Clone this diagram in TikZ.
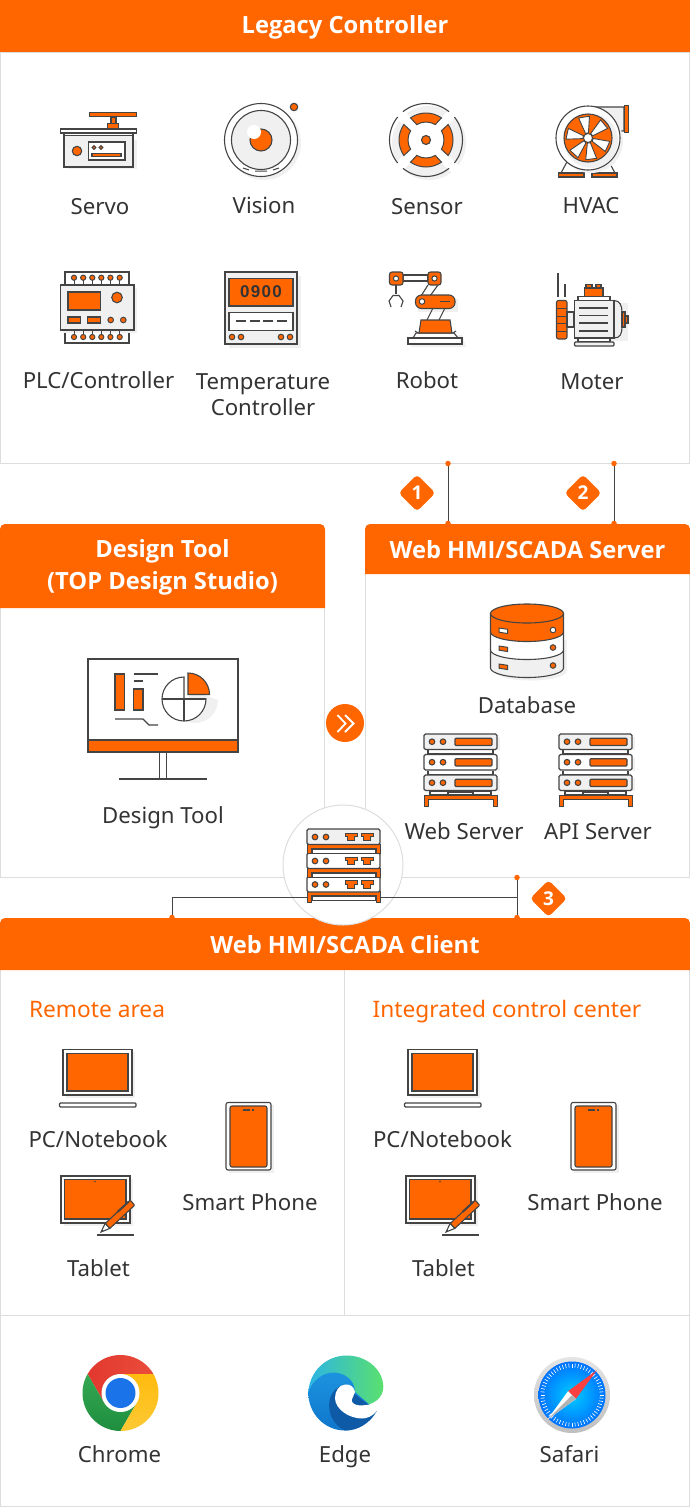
\documentclass[tikz,border=0pt]{standalone}
\usepackage{fontspec}
\setmainfont{Noto Sans}
\newfontfamily\hfnt{Open Sans}
\newfontfamily\dispfnt{Liberation Sans}[LetterSpace=8]
\usetikzlibrary{shapes.geometric}
\definecolor{org}{HTML}{FF6600}
\definecolor{ink}{HTML}{444444}
\definecolor{txt}{HTML}{333333}
\definecolor{pale}{HTML}{F0F0F0}
\definecolor{bord}{HTML}{DDDDDD}
\tikzset{
  ol/.style={draw=ink,line width=1.1pt},
  of/.style={ol,fill=org},
  wf/.style={ol,fill=white},
  gf/.style={ol,fill=pale},
  sh/.style={fill=pale,draw=none},
  panel/.style={draw=bord,line width=1pt,fill=white},
  hdr/.style={fill=org},
  lab/.style={anchor=base,text=txt,font=\fontsize{22.2}{26}\selectfont,inner sep=0pt},
  hlab/.style={anchor=base,text=white,font=\hfnt\fontsize{23.7}{26}\selectfont\bfseries,inner sep=0pt},
  olab/.style={anchor=base,text=org,font=\fontsize{22.7}{26}\selectfont,inner sep=0pt},
  dotn/.style={circle,fill=org,inner sep=0pt,minimum size=5.5pt},
  badge/.style={diamond,aspect=1,fill=org,rounded corners=4pt,inner sep=0pt,minimum size=37pt,text=white,font=\hfnt\fontsize{19}{20}\selectfont\bfseries},
  conn/.style={draw=ink,line width=1pt},
}
\newcommand{\rackrow}[3]{% x, y, fill
  \fill[sh] (#1+3,#2+3) rectangle (#1+76,#2+16);
  \draw[ol,fill=#3,rounded corners=1.5pt] (#1,#2) rectangle (#1+73,#2+15.5);
  \draw[of] (#1+8,#2+7.7) circle (2.8);
  \draw[of] (#1+19,#2+7.7) circle (2.8);
}
\newcommand{\rackbar}[2]{\draw[of,rounded corners=1pt] (#1+31,#2+4.2) rectangle (#1+68,#2+11.5);}
\newcommand{\server}[1]{%
  \draw[ol,fill=white] (#1+4,749) rectangle (#1+69,754);
  \draw[ol,fill=white] (#1+4,770) rectangle (#1+69,775);
  \draw[ol,fill=white] (#1+6,791) rectangle (#1+24,795);
  \draw[ol,fill=white] (#1+49,791) rectangle (#1+67,795);
  \draw[ol,fill=white] (#1+24,792) rectangle (#1+49,795);
  \rackrow{#1}{734}{pale}\rackbar{#1}{734}
  \rackrow{#1}{754.5}{white}\rackbar{#1}{754.5}
  \rackrow{#1}{775}{pale}\rackbar{#1}{775}
  \fill[org,draw=ink,line width=1pt] (#1,795) -- (#1+73,795) -- (#1+73,806) -- (#1+69,806) -- (#1+69,799) -- (#1+4,799) -- (#1+4,806) -- (#1,806) -- cycle;
}
\newcommand{\port}[2]{\draw[of,line width=1pt] (#1,#2) -- (#1+12,#2) -- (#1+12,#2+3.5) -- (#1+9.5,#2+3.5) -- (#1+9.5,#2+7.5) -- (#1+2.5,#2+7.5) -- (#1+2.5,#2+3.5) -- (#1,#2+3.5) -- cycle;}
\newcommand{\midrow}[3]{% y, fill, leg length
  \fill[white] (311,#1+19) rectangle (376,#1+#3);
  \draw[ink,line width=1pt,fill=white] (312,#1+20) rectangle (375,#1+24);
  \fill[org,draw=ink,line width=1pt] (307,#1+15) -- (380,#1+15) -- (380,#1+#3) -- (376,#1+#3) -- (376,#1+19) -- (311,#1+19) -- (311,#1+#3) -- (307,#1+#3) -- cycle;
  \draw[ol,fill=#2,rounded corners=1.5pt] (307,#1) rectangle (380,#1+15.5);
  \draw[of] (315,#1+8) circle (2.8);
  \draw[of] (326,#1+8) circle (2.8);
  \port{345}{#1+4}\port{361}{#1+4}
}
\newcommand{\devices}[1]{%
\begin{scope}[shift={(#1,0)}]
  % laptop
  \fill[sh] (66,1052) rectangle (135,1098);
  \draw[wf] (63,1049.5) rectangle (132,1095);
  \draw[of] (67,1053.5) rectangle (128,1091);
  \draw[ol,fill=white,rounded corners=1pt] (59.5,1103) rectangle (136,1107);
  % phone
  \fill[sh] (229,1105) rectangle (274,1173);
  \draw[wf,rounded corners=2pt] (226,1102.5) rectangle (271,1170);
  \draw[of,rounded corners=2pt] (230,1106) rectangle (267,1167);
  \draw[ink,line width=1.2pt] (243,1110) -- (250,1110) (252,1110) -- (253.5,1110);
  % tablet
  \fill[sh] (64,1179) rectangle (133,1226);
  \draw[wf] (61,1176) rectangle (130,1223);
  \draw[of] (64.5,1179.5) rectangle (126,1219);
  \fill[ink] (95,1181.5) circle (0.8);
  \draw[ink,line width=1.2pt] (97,1235) -- (134,1235);
  \begin{scope}[shift={(101,1232)},rotate=43]
    \draw[wf] (0,0) -- (9,-3.4) -- (9,3.4) -- cycle;
    \fill[ink] (0,0) -- (2.5,-1) -- (2.5,1) -- cycle;
    \draw[of,rounded corners=1pt] (9,-3.4) -- (43,-3.4) -- (43,3.4) -- (9,3.4) -- cycle;
    \draw[ink,line width=2pt] (26,-3.4) -- (41,-3.4);
  \end{scope}
\end{scope}}
\begin{document}
\begin{tikzpicture}[x=1pt,y=-1pt]
\useasboundingbox (0,0) rectangle (690,1507);
\fill[white] (0,0) rectangle (690,1507);
% ---- panels
\draw[panel] (0.5,52) rectangle (689.5,463);
\fill[hdr] (0,0) rectangle (690,52);
\node[hlab] (t1) at (345,33) {Legacy Controller};
\draw[panel] (0.5,600) rectangle (324.5,877);
\draw[panel] (365.5,570) rectangle (689.5,877);
\fill[hdr,rounded corners=5pt] (0,608) -- (0,524) -- (325,524) -- (325,608);
\fill[hdr] (0,600) rectangle (325,608);
\fill[hdr,rounded corners=5pt] (365,574) -- (365,524) -- (690,524) -- (690,574);
\fill[hdr] (365,566) rectangle (690,574);
\node[hlab] (t2) at (162.5,557) {Design Tool};
\node[hlab] (t3) at (162.5,589) {(TOP Design Studio)};
\node[hlab] (t4) at (527.5,558) {Web HMI/SCADA Server};
\draw[panel] (0.5,960) rectangle (689.5,1506);
\fill[hdr,rounded corners=5pt] (0,970) -- (0,918) -- (690,918) -- (690,970);
\fill[hdr] (0,960) rectangle (690,970);
\node[hlab] (t5) at (345,953) {Web HMI/SCADA Client};
\draw[bord,line width=1pt] (344.5,970) -- (344.5,1315.5);
\draw[bord,line width=1pt] (0,1315.5) -- (690,1315.5);
% ---- connectors 1, 2
\node[dotn] (a1) at (448,463.5) {};
\node[dotn] (b1) at (448,523.5) {};
\node[dotn] (a2) at (614,463.5) {};
\node[dotn] (b2) at (614,523.5) {};
\draw[conn] (a1) -- (b1);
\draw[conn] (a2) -- (b2);
\node[badge] (n1) at (417,493) {1};
\node[badge] (n2) at (583,493) {2};
% ---- arrow
\node[circle,fill=org,minimum size=38pt,inner sep=0pt] (arrowc) at (345,723) {};
\draw[white,line width=1.8pt] (337.5,715) -- (345.5,723.5) -- (337.5,732);
\draw[white,line width=1.8pt] (345,715) -- (353.5,723.5) -- (345,732);
% ---- middle badge
\node[circle,draw=bord,line width=1pt,fill=white,minimum size=120pt,inner sep=0pt] (hub) at (343,865) {};
\node[dotn] (a3) at (517,877.5) {};
\node[dotn] (b3) at (517,917.5) {};
\node[dotn] (b4) at (172,917.5) {};
\coordinate (j3) at (517,897);
\draw[conn] (a3) -- (b3);
\draw[conn] (b4) |- (j3);
\node[badge] (n3) at (548.5,898.5) {3};
\midrow{876.5}{white}{26}
\midrow{853}{white}{24}
\midrow{829}{pale}{24}
% ---- Servo
\fill[sh] (68,140) rectangle (137,169);
\draw[wf] (60.5,129) rectangle (136.5,133);
\draw[wf] (64,133) rectangle (133,167);
\fill[sh] (65,136) rectangle (132,166);
\draw[ink,line width=1pt] (64,135.5) -- (133,135.5);
\draw[of] (77,151) circle (4.7);
\draw[wf] (88.5,142) rectangle (125,160);
\draw[of] (94,147.5) circle (1.9);
\draw[of] (101,147.5) circle (1.9);
\draw[of] (92,153.5) rectangle (121,156.5);
\draw[of] (111,117) rectangle (116,123.5);
\draw[of] (107.5,123.5) rectangle (118.5,129);
\draw[of] (89.5,112.5) rectangle (136.5,116.5);
% ---- Vision
\fill[sh] (264,143) circle (37);
\draw[wf] (261,140) circle (36.5);
\draw[gf] (261,140) circle (29.5);
\draw[of] (261,140) circle (11);
\fill[white] (254,132) circle (7);
\draw[ink,line width=1pt] (249,170) -- (243,168) (255,171) -- (267,171) (273,170) -- (279,168);
\draw[of] (294,107) circle (3.7);
% ---- Sensor
\fill[sh] (429,143) circle (37);
\begin{scope}[shift={(426,140)},yscale=-1]
  \foreach \r in {45,135}{\fill[white,rotate=\r] (-42,-5) rectangle (42,5);}
  \fill[white] (0,0) circle (18);
  \foreach \r in {0,90,180,270}{
    \begin{scope}[rotate=\r]
      \draw[ol] (-39:36.5) arc[start angle=-39,end angle=39,radius=36.5];
      \draw[of,line width=1pt] (-35:27) arc[start angle=-35,end angle=35,radius=27] -- (31:18) arc[start angle=31,end angle=-31,radius=18] -- cycle;
    \end{scope}}
  \draw[of] (0,0) circle (4.5);
\end{scope}
% ---- HVAC
\draw[gf] (588,107) -- (624,107) -- (624,131) -- (612,131) -- (588,125) -- cycle;
\draw[of,line width=1pt] (624,105.5) rectangle (628,132);
\draw[wf] (568,160) -- (561,173) -- (584,173) -- (580,164) -- cycle;
\draw[wf] (608,160) -- (615,173) -- (592,173) -- (596,164) -- cycle;
\draw[of] (558.5,173) rectangle (584,177);
\draw[of] (592,173) rectangle (617,177);
\fill[sh] (591,141) circle (32);
\draw[wf,fill=white] (588,138) circle (32);
\fill[sh] (591,141) circle (27);
\draw[of] (588,138) circle (24);
\begin{scope}[shift={(588,138)},yscale=-1]
  \foreach \r in {80,22,-42,-102,-170,130}{
    \draw[wf,line width=0.9pt,rotate=\r] (5,-1.5) -- (21,-6) -- (21.5,5) -- (5,1.5) -- cycle;}
  \draw[wf,line width=0.9pt] (0,0) circle (4.5);
\end{scope}
% ---- PLC
\draw[wf,line width=1.2pt] (65,272) rectangle (129,285);
\draw[wf,line width=1.2pt] (65,330) rectangle (129,343);
\fill[sh] (63,288) rectangle (137,333);
\draw[gf] (60.5,285) rectangle (134,330);
\foreach \x in {74,83.2,92.3,101.3,110.4,119.7}{
  \draw[ink,line width=1pt] (\x,278) -- (\x,285);
  \draw[ink,line width=1pt] (\x,330) -- (\x,337);
  \draw[of,line width=1pt] (\x,277.7) circle (2.6);
  \draw[of,line width=1pt] (\x,337) circle (2.6);
}
\draw[of] (68,292) rectangle (100.5,310);
\draw[of] (117,297.5) circle (5.3);
\draw[of] (68,317) rectangle (80.5,323);
\draw[of] (87.5,317) rectangle (100.5,323);
\draw[of,line width=1pt] (110.7,320) circle (2.8);
\draw[of,line width=1pt] (123.3,320) circle (2.8);
% ---- Temperature controller
\fill[sh] (229,276) rectangle (301,348);
\draw[gf] (225,272) rectangle (297,344);
\draw[of] (229,278.5) rectangle (293,306);
\node[inner sep=0pt,anchor=center,text=txt,font=\dispfnt\bfseries\fontsize{17}{18}\selectfont] (disp) at (261,292) {0900};
\draw[wf] (229,312.5) rectangle (293,330.5);
\foreach \x in {236,249.5,263,276.5}{\draw[ink,line width=1.1pt] (\x,321) -- (\x+10,321);}
\foreach \x in {232,241,281,290}{\draw[of,line width=1pt] (\x,337) circle (2.8);}
% ---- Robot
\fill[sh] (414,335) -- (462,335) -- (466,347) -- (411,347) -- cycle;
\fill[sh] (418,299) rectangle (458,312);
\draw[wf] (403,275) rectangle (428,281);
\draw[of,rounded corners=2.5pt] (389.5,272) rectangle (403,285);
\draw[of,rounded corners=2.5pt] (428,272) rectangle (441,285);
\fill[white,draw=ink,line width=1pt] (396,278.5) circle (2.6);
\fill[white,draw=ink,line width=1pt] (434.5,278.5) circle (2.6);
\draw[ol] (396,285) -- (396,294);
\draw[ol] (391,307) -- (389,301) -- (393,295.5) -- (399,295.5) -- (403,301) -- (401,307);
\draw[ol] (428,285) -- (421,296);
\draw[ol] (438,285) -- (430,296);
\draw[ol] (433,308) -- (427,320);
\draw[ol] (445,308) -- (439,320);
\draw[of,rounded corners=6pt] (415.5,295) rectangle (455,308.5);
\fill[white,draw=ink,line width=1pt] (422,301.5) circle (2.8);
\draw[ink,line width=1.2pt] (440,301.5) -- (450,301.5);
\draw[wf] (413,338) -- (416,333) -- (454,333) -- (458,338) -- cycle;
\draw[of] (421,320) -- (450,320) -- (452,333) -- (419,333) -- cycle;
\draw[ol] (418,333) -- (415,331) (453,333) -- (456,331);
\draw[wf] (408,338) rectangle (462,344);
% ---- Motor
\fill[sh] (577,303) rectangle (628,341);
\draw[ink,line width=1.2pt] (558,273) -- (558,297);
\draw[ink,line width=1.2pt] (565,284) -- (565,297);
\draw[of,rounded corners=2pt] (567,300.5) -- (556.5,300.5) -- (556.5,339) -- (567,339) -- cycle;
\foreach \y in {308,316,323.5,331}{\draw[ink,line width=1pt] (556.5,\y) -- (567,\y);}
\draw[gf] (567,312) rectangle (574,327);
\draw[wf] (578,296.5) rectangle (610,300.5);
\draw[of] (586,284.5) rectangle (592,288);
\draw[of] (596,284.5) rectangle (601,288);
\draw[of] (584.5,288) rectangle (603,296.5);
\draw[wf] (578,338) rectangle (610,342);
\draw[ol,fill=pale,rounded corners=1pt] (574.5,342) rectangle (614,346);
\draw[ol,fill=pale] (614,300.5) .. controls (620,300.5) and (622,306) .. (622,312) -- (622,327) .. controls (622,334) and (620,338) .. (614,338) -- cycle;
\draw[gf] (574.5,300.5) rectangle (614,338);
\foreach \y in {308,315.5,323,331}{\draw[ink,line width=1.1pt] (579,\y) -- (608,\y);}
\draw[of] (622,312) rectangle (625,327);
\draw[of] (625,316) rectangle (628,323);
% ---- Monitor
\draw[wf] (88,659) rectangle (238,740);
\draw[of] (88,740) rectangle (238,752);
\draw[ol] (159.5,752) -- (159.5,779);
\draw[ol] (166.5,752) -- (166.5,779);
\draw[ol] (119,779) -- (207,779);
\draw[of] (115,674) rectangle (124.5,710);
\draw[of] (133.5,689) rectangle (143,710);
\draw[ol] (133.5,674) -- (158,674);
\draw[ol] (133.5,681) -- (143,681);
\draw[ol] (115,719) -- (143,719) -- (149,725) -- (158,725);
\fill[sh] (218,700) arc[start angle=0,end angle=135,radius=23] -- (190,695) -- (204,695) -- cycle;
\draw[wf] (184,677) arc[start angle=270,end angle=0,radius=22] -- (184,699) -- cycle;
\draw[ol] (184,699) -- (184,721);
\draw[ol] (162,699) -- (206,699);
\draw[of] (188,673) arc[start angle=270,end angle=360,radius=21.5] -- (188,694.5) -- cycle;
% ---- Database
\fill[sh] (494,640) rectangle (567,670);
\fill[sh] (530.5,671) ellipse (36.5 and 9.5);
\draw[gf] (490.5,650) -- (490.5,668) arc[start angle=180,end angle=0,x radius=36.5,y radius=9.5] -- (563.5,650) -- cycle;
\draw[wf] (490.5,632) -- (490.5,650) arc[start angle=180,end angle=0,x radius=36.5,y radius=9.5] -- (563.5,632) -- cycle;
\draw[of] (490.5,613.5) -- (490.5,632) arc[start angle=180,end angle=0,x radius=36.5,y radius=9.5] -- (563.5,613.5) -- cycle;
\draw[of] (527,613.5) ellipse (36.5 and 9.5);
\draw[wf,line width=1pt] (499,628) -- (507.5,629.3) -- (507.5,633.5) -- (499,632.2) -- cycle;
\draw[of,line width=1pt] (499,646) -- (507.5,647.3) -- (507.5,651.5) -- (499,650.2) -- cycle;
\draw[of,line width=1pt] (499,664) -- (507.5,665.3) -- (507.5,669.5) -- (499,668.2) -- cycle;
\draw[wf,line width=1pt] (553,630) circle (2.8);
\draw[of,line width=1pt] (553,647.5) circle (2.8);
\draw[of,line width=1pt] (553,665.5) circle (2.8);
% ---- Servers
\server{424}
\server{559}
% ---- Devices
\devices{0}
\devices{345}
% ---- Chrome
\definecolor{crd}{HTML}{E2382E}
\definecolor{crl}{HTML}{EA4D3B}
\definecolor{cgd}{HTML}{1E8E3E}
\definecolor{cgl}{HTML}{34A853}
\definecolor{cyd}{HTML}{FCC934}
\definecolor{cyl}{HTML}{FFBB0F}
\definecolor{cbl}{HTML}{1A73E8}
\begin{scope}[shift={(120.5,1393)},yscale=-1]
  \shade[left color=crd,right color=crl] (90:19) -- (30:38) arc[start angle=30,end angle=150,radius=38] -- (210:19) -- (0,0) -- cycle;
  \shade[top color=cgl,bottom color=cgd] (210:19) -- (150:38) arc[start angle=150,end angle=270,radius=38] -- (330:19) -- (0,0) -- cycle;
  \shade[top color=cyl,bottom color=cyd] (330:19) -- (270:38) arc[start angle=270,end angle=390,radius=38] -- (90:19) -- (0,0) -- cycle;
  \fill[white] (0,0) circle (19);
  \fill[cbl] (0,0) circle (15);
\end{scope}
% ---- Edge
\definecolor{etl}{HTML}{2CB5E4}
\definecolor{etr}{HTML}{5AE06E}
\definecolor{emd}{HTML}{0F76CC}
\definecolor{eml}{HTML}{1C93DE}
\definecolor{edk}{HTML}{0F5AA6}
\shade[left color=etl,right color=etr] (308.3,1392) .. controls (310,1370) and (327,1355.5) .. (346.7,1355.5) .. controls (367,1355.5) and (383.3,1370) .. (383.3,1387) .. controls (383.3,1398) and (373,1405.5) .. (361,1405.5) .. controls (355,1405.5) and (351.5,1403) .. (351.7,1400) -- (340,1405) -- cycle;
\shade[top color=eml,bottom color=emd] (308.3,1392) .. controls (313,1380) and (323,1372.5) .. (333.5,1372.5) .. controls (344,1372.5) and (355,1380) .. (355,1392) -- (376.7,1411) .. controls (370,1423) and (358,1430.5) .. (345,1430.5) .. controls (325,1430.5) and (308,1414) .. (308.3,1392) -- cycle;
\fill[edk] (343,1385) .. controls (331,1389) and (326,1402) .. (331,1416) .. controls (334,1423) and (339,1428) .. (345,1430.5) .. controls (358,1430.5) and (370,1423) .. (376.7,1411) -- cycle;
\fill[white] (355,1392) .. controls (354,1386) and (349,1384) .. (345,1384.5) .. controls (339,1385) and (335,1391) .. (335,1398) .. controls (335,1409) and (349,1418.5) .. (362,1418.5) .. controls (367,1418.5) and (373,1416) .. (376.7,1411) -- (385,1403) -- (361,1405.5) .. controls (355,1405.5) and (351.5,1403) .. (351.7,1400) -- cycle;
% ---- Safari
\begin{scope}[shift={(572,1395)},yscale=-1]
  \shade[top color=gray!20,bottom color=gray!50] (0,0) circle (38);
  \shade[inner color=cyan!80!blue,outer color=blue!55!cyan] (0,0) circle (33.5);
  \foreach \a in {0,6,...,354}{\draw[white,line width=0.6pt,rotate=\a] (27.5,0) -- (31.5,0);}
  \fill[red!75!white] (45:35) -- (135:5.5) -- (-45:5.5) -- cycle;
  \fill[white] (-135:35) -- (135:5.5) -- (-45:5.5) -- cycle;
  \fill[gray!60] (-135:35) -- (0,0) -- (-45:5.5) -- cycle;
\end{scope}
% ---- labels
\node[lab] (l1) at (100,214) {Servo};
\node[lab] (l2) at (264,213) {Vision};
\node[lab] (l3) at (427,214) {Sensor};
\node[lab] (l4) at (591,213) {HVAC};
\node[lab] (l5) at (98.5,388) {PLC/Controller};
\node[lab] (l6) at (263,389) {Temperature};
\node[lab] (l7) at (263,415) {Controller};
\node[lab] (l8) at (427,388) {Robot};
\node[lab] (l9) at (592,389) {Moter};
\node[lab] (l10) at (527,713) {Database};
\node[lab] (l11) at (163,823) {Design Tool};
\node[lab] (l12) at (464,839) {Web Server};
\node[lab] (l13) at (598,839) {API Server};
\node[olab] (l14) at (97,1017) {Remote area};
\node[olab] (l15) at (507,1017) {Integrated control center};
\node[lab] (l16) at (98,1147) {PC/Notebook};
\node[lab] (l17) at (442.5,1147) {PC/Notebook};
\node[lab] (l18) at (250,1210) {Smart Phone};
\node[lab] (l19) at (595,1210) {Smart Phone};
\node[lab] (l20) at (98.5,1276) {Tablet};
\node[lab] (l21) at (443.5,1276) {Tablet};
\node[lab] (l22) at (119.5,1462) {Chrome};
\node[lab] (l23) at (345,1462) {Edge};
\node[lab] (l24) at (569.5,1462) {Safari};
\end{tikzpicture}
\end{document}
